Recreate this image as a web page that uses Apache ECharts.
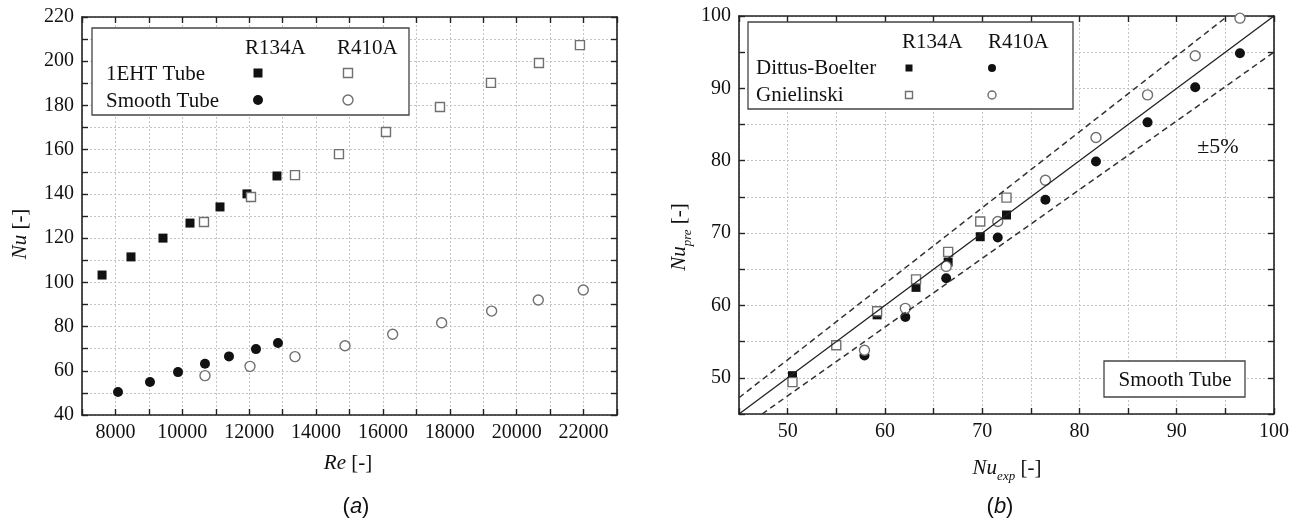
<!DOCTYPE html>
<html>
<head>
<meta charset="utf-8">
<script src="https://cdn.jsdelivr.net/npm/echarts@6/dist/echarts.min.js"></script>
<style>
html,body{margin:0;padding:0;background:#fff;}
#chart{width:1299px;height:525px;}
</style>
</head>
<body>
<div id="chart"></div>
<script>
// ---------- Data (a): Nu vs Re ----------
const ehtR134a = [[7600,103.3],[8465,111.5],[9422,120.0],[10230,126.8],[11127,134.1],[11934,140.0],[12831,148.1]];
const ehtR410a = [[10648,127.3],[12054,138.6],[13370,148.5],[14685,158.0],[16091,168.0],[17706,179.3],[19231,190.2],[20666,199.2],[21892,207.3]];
const smoothR134a = [[8077,50.4],[9033,54.9],[9871,59.4],[10678,63.2],[11396,66.5],[12203,69.8],[12861,72.6]];
const smoothR410a = [[10678,57.8],[12024,62.0],[13370,66.4],[14865,71.3],[16291,76.5],[17756,81.7],[19251,87.0],[20646,92.0],[21992,96.5]];
const reTicks = [8000,10000,12000,14000,16000,18000,20000,22000];
const nuTicks = [40,60,80,100,120,140,160,180,200,220];

// ---------- Data (b): Nu_pre vs Nu_exp ----------
const dbR134a = [[50.5,50.3],[59.2,58.7],[63.2,62.5],[66.5,66.0],[69.8,69.5],[72.5,72.5]];
const gnR134a = [[50.5,49.4],[55.0,54.5],[59.2,59.2],[63.2,63.6],[66.5,67.4],[69.8,71.6],[72.5,74.9]];
const dbR410a = [[57.9,53.1],[62.1,58.4],[66.3,63.75],[71.6,69.4],[76.5,74.6],[81.7,79.9],[87.0,85.3],[91.9,90.15],[96.5,94.85]];
const gnR410a = [[57.9,53.8],[62.1,59.6],[66.3,65.4],[71.6,71.6],[76.5,77.3],[81.7,83.2],[87.0,89.1],[91.9,94.5],[96.5,99.7]];
const parityLine = [[45,45],[100,100]];
const upperBand = [[45,47.25],[95.24,100]];
const lowerBand = [[47.37,45],[100,95]];
const nuExpTicks = [50,60,70,80,90,100];
const nuPreTicks = [50,60,70,80,90,100];

const SERIF = '"Liberation Serif", "Times New Roman", serif';
const SANS = '"Liberation Sans", Arial, sans-serif';
const INK = '#111';
const GRAY = '#707070';

function axisBase(extra){
  return Object.assign({
    type:'value',
    axisLine:{show:true,onZero:false,lineStyle:{color:'#222',width:1.6}},
    axisTick:{show:true,inside:true,length:6,lineStyle:{color:'#222',width:1.4}},
    splitLine:{show:false},
    axisLabel:{show:false}
  }, extra);
}
function labelCfg(values){
  return {show:true,customValues:values,color:INK,fontFamily:SERIF,fontSize:20,margin:8,
          formatter:function(v){return String(v);}};
}
const gridLine = {show:true,lineStyle:{color:'#c4c4c4',type:[2,2],width:1}};

const chart = echarts.init(document.getElementById('chart'), null, {renderer:'canvas'});

const openStyle = {color:'#fff',borderColor:GRAY,borderWidth:1.4,opacity:1};
const filledStyle = {color:INK,opacity:1};

const option = {
  backgroundColor:'#fff',
  animation:false,
  grid:[
    {left:82,top:17,width:535,height:398,show:false},
    {left:739,top:16,width:535,height:398,show:false}
  ],
  xAxis:[
    axisBase({gridIndex:0,position:'bottom',min:7000,max:23000,interval:1000,axisLabel:labelCfg(reTicks),splitLine:gridLine}),
    axisBase({gridIndex:0,position:'top',min:7000,max:23000,interval:1000}),
    axisBase({gridIndex:1,position:'bottom',min:45,max:100,interval:5,axisLabel:labelCfg(nuExpTicks),splitLine:gridLine}),
    axisBase({gridIndex:1,position:'top',min:45,max:100,interval:5})
  ],
  yAxis:[
    axisBase({gridIndex:0,position:'left',min:40,max:220,interval:10,axisLabel:labelCfg(nuTicks),splitLine:gridLine}),
    axisBase({gridIndex:0,position:'right',min:40,max:220,interval:10}),
    axisBase({gridIndex:1,position:'left',min:45,max:100,interval:5,axisLabel:labelCfg(nuPreTicks),splitLine:gridLine}),
    axisBase({gridIndex:1,position:'right',min:45,max:100,interval:5})
  ],
  series:[
    {type:'scatter',xAxisIndex:0,yAxisIndex:0,data:ehtR134a,symbol:'rect',symbolSize:9,itemStyle:filledStyle,silent:true},
    {type:'scatter',xAxisIndex:0,yAxisIndex:0,data:ehtR410a,symbol:'rect',symbolSize:9,itemStyle:openStyle,silent:true},
    {type:'scatter',xAxisIndex:0,yAxisIndex:0,data:smoothR134a,symbol:'circle',symbolSize:10,itemStyle:filledStyle,silent:true},
    {type:'scatter',xAxisIndex:0,yAxisIndex:0,data:smoothR410a,symbol:'circle',symbolSize:10,itemStyle:openStyle,silent:true},

    {type:'line',xAxisIndex:2,yAxisIndex:2,data:parityLine,symbol:'none',lineStyle:{color:'#222',width:1.3},silent:true},
    {type:'line',xAxisIndex:2,yAxisIndex:2,data:upperBand,symbol:'none',lineStyle:{color:'#333',width:1.5,type:[6,4]},silent:true},
    {type:'line',xAxisIndex:2,yAxisIndex:2,data:lowerBand,symbol:'none',lineStyle:{color:'#333',width:1.5,type:[6,4]},silent:true},
    {type:'scatter',xAxisIndex:2,yAxisIndex:2,data:dbR134a,symbol:'rect',symbolSize:9,itemStyle:filledStyle,silent:true},
    {type:'scatter',xAxisIndex:2,yAxisIndex:2,data:dbR410a,symbol:'circle',symbolSize:10,itemStyle:filledStyle,silent:true},
    {type:'scatter',xAxisIndex:2,yAxisIndex:2,data:gnR134a,symbol:'rect',symbolSize:9,itemStyle:openStyle,silent:true},
    {type:'scatter',xAxisIndex:2,yAxisIndex:2,data:gnR410a,symbol:'circle',symbolSize:10,itemStyle:openStyle,silent:true}
  ],
  graphic:[]
};

function txt(x,y,text,size,opts){
  return Object.assign({type:'text',x:x,y:y,z:100,silent:true,
    style:Object.assign({text:text,fontFamily:SERIF,fontSize:size,fill:INK,align:'left',verticalAlign:'middle'},opts&&opts.style||{})
  }, opts&&opts.el||{});
}
function box(x,y,w,h){
  return {type:'rect',z:90,silent:true,shape:{x:x,y:y,width:w,height:h},style:{fill:'#fff',stroke:'#444',lineWidth:1.3}};
}
function mark(kind,x,y,s,filled){
  const style = filled ? {fill:INK} : {fill:'#fff',stroke:GRAY,lineWidth:1.4};
  if(kind==='rect') return {type:'rect',z:100,silent:true,shape:{x:x-s/2,y:y-s/2,width:s,height:s},style:style};
  return {type:'circle',z:100,silent:true,shape:{cx:x,cy:y,r:s/2},style:style};
}
const measureCtx = document.createElement('canvas').getContext('2d');
function textWidth(t,font){ measureCtx.font = font; return measureCtx.measureText(t).width; }
// axis title with italic main symbol, italic subscript, and plain tail, centred on (cx,cy)
function subTitle(cx,cy,main,sub,tail,rotation){
  const fMain = 'italic 21px ' + SERIF, fSub = 'italic 13px ' + SERIF, fTail = '21px ' + SERIF;
  const wm = textWidth(main,fMain), ws = sub ? textWidth(sub,fSub) : 0, wt = textWidth(tail,fTail);
  const total = wm + ws + wt;
  const x0 = -total/2;
  const children = [
    {type:'text',x:x0,y:0,style:{text:main,fontFamily:SERIF,fontStyle:'italic',fontSize:21,fill:INK,verticalAlign:'middle',align:'left'}}
  ];
  if(sub) children.push({type:'text',x:x0+wm,y:9,style:{text:sub,fontFamily:SERIF,fontStyle:'italic',fontSize:13,fill:INK,verticalAlign:'middle',align:'left'}});
  children.push({type:'text',x:x0+wm+ws,y:0,style:{text:tail,fontFamily:SERIF,fontSize:21,fill:INK,verticalAlign:'middle',align:'left'}});
  return {type:'group',x:cx,y:cy,rotation:rotation||0,z:100,silent:true,children:children};
}
const g = option.graphic;
// legend (a)
g.push(box(92,28,317,87));
g.push(txt(245,48,'R134A',21));
g.push(txt(337,48,'R410A',21));
g.push(txt(106,74,'1EHT Tube',21));
g.push(txt(106,101,'Smooth Tube',21));
g.push(mark('rect',258,73,9,true));
g.push(mark('rect',348,73,9,false));
g.push(mark('circle',258,100,10,true));
g.push(mark('circle',348,100,10,false));
// legend (b)
g.push(box(748,22,325,87));
g.push(txt(902,42,'R134A',21));
g.push(txt(988,42,'R410A',21));
g.push(txt(756,68,'Dittus-Boelter',21));
g.push(txt(756,95,'Gnielinski',21));
g.push(mark('rect',909,68,7,true));
g.push(mark('rect',909,95,7,false));
g.push(mark('circle',992,68,8,true));
g.push(mark('circle',992,95,8,false));
// annotations (b)
g.push(txt(1218,147,'±5%',22,{style:{align:'center'}}));
g.push(box(1104,361,141,36));
g.push(txt(1175,380,'Smooth Tube',21,{style:{align:'center'}}));
// axis titles
g.push(subTitle(348,463,'Re','',' [-]',0));
g.push(subTitle(20,234,'Nu','',' [-]',Math.PI/2));
g.push(subTitle(1007,468,'Nu','exp',' [-]',0));
g.push(subTitle(679,237,'Nu','pre',' [-]',Math.PI/2));
// panel labels
g.push(txt(356,507,'({i|a})',22,{style:{align:'center',fontFamily:SANS,rich:{i:{fontStyle:'italic',fontFamily:SANS,fontSize:22}}}}));
g.push(txt(1000,507,'({i|b})',22,{style:{align:'center',fontFamily:SANS,rich:{i:{fontStyle:'italic',fontFamily:SANS,fontSize:22}}}}));

chart.setOption(option);
</script>
</body>
</html>
